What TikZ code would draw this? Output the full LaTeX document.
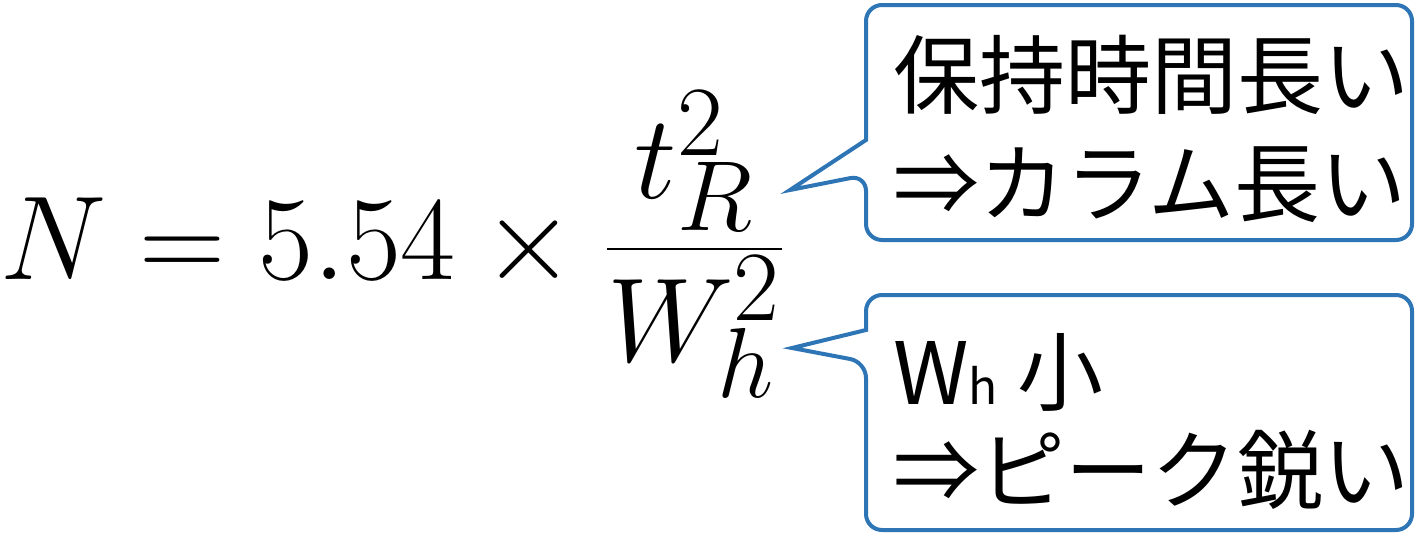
\documentclass[tikz,border=0pt]{standalone}
\usepackage{graphicx}
\usepackage{fontspec}
\newfontfamily\jp{Noto Sans CJK JP}
\definecolor{cb}{HTML}{2E75B6}
\begin{document}
\begin{tikzpicture}[x=0.5pt,y=-0.5pt,
  callout/.style={draw=cb,line width=2pt,fill=white,rounded corners=8pt},
  jt/.style={anchor=west,inner sep=0,font=\jp\fontsize{43}{48}\selectfont}]
\useasboundingbox (0,0) rectangle (1418,536);
\node[anchor=west,inner sep=0] (f) at (0,244)
  {\scalebox{2.4}{\Huge$\displaystyle N = 5.54\times\frac{t_R^2}{W_h^2}$}};
\coordinate (p1) at (790,190);
\coordinate (p2) at (792,348);
\draw[callout] (866,5) -- (1412,5) -- (1412,240) -- (866,240) -- (866,175)
  [sharp corners] -- (p1) -- (866,140) [rounded corners=8pt] -- cycle;
\draw[callout] (866,295) -- (1412,295) -- (1412,530) -- (866,530) -- (866,362)
  [sharp corners] -- (p2) -- (866,330) [rounded corners=8pt] -- cycle;
\node[jt] (a1) at (893,75) {保持時間長い};
\node[jt] (a2) at (893,185) {⇒カラム長い};
\node[jt] (b1) at (893,372) {W{\fontsize{24}{28}\selectfont h} 小};
\node[jt] (b2) at (893,470) {⇒ピーク鋭い};
\end{tikzpicture}
\end{document}
